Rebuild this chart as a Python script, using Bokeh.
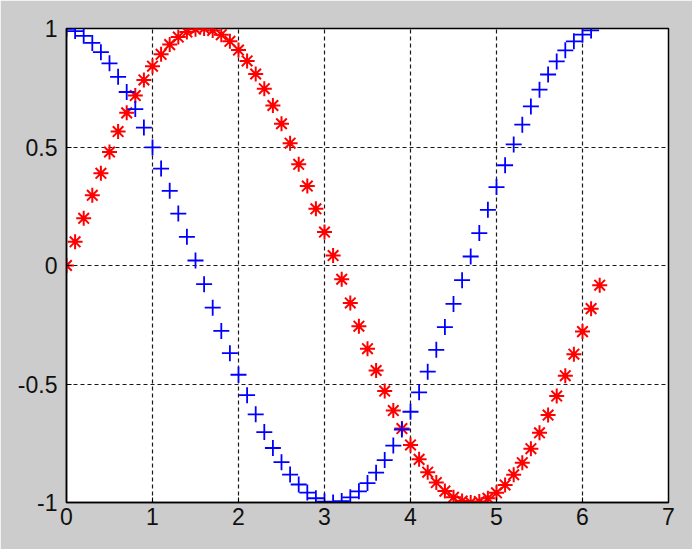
from bokeh.plotting import figure
from bokeh.models import FixedTicker, Range1d
from bokeh.embed import file_html
from bokeh.resources import INLINE

# red '*' series
red_x = [0.0, 0.1, 0.2, 0.3, 0.4, 0.5, 0.6, 0.7, 0.8, 0.9,
         1.0, 1.1, 1.2, 1.3, 1.4, 1.5, 1.6, 1.7, 1.8, 1.9,
         2.0, 2.1, 2.2, 2.3, 2.4, 2.5, 2.6, 2.7, 2.8, 2.9,
         3.0, 3.1, 3.2, 3.3, 3.4, 3.5, 3.6, 3.7, 3.8, 3.9,
         4.0, 4.1, 4.2, 4.3, 4.4, 4.5, 4.6, 4.7, 4.8, 4.9,
         5.0, 5.1, 5.2, 5.3, 5.4, 5.5, 5.6, 5.7, 5.8, 5.9,
         6.0, 6.1, 6.2]
red_y = [0.000, 0.100, 0.199, 0.296, 0.389, 0.479, 0.565, 0.644, 0.717, 0.783,
         0.841, 0.891, 0.932, 0.964, 0.985, 0.997, 1.000, 0.992, 0.974, 0.946,
         0.909, 0.863, 0.808, 0.746, 0.675, 0.598, 0.516, 0.427, 0.335, 0.239,
         0.141, 0.042, -0.058, -0.158, -0.256, -0.351, -0.443, -0.530, -0.612, -0.688,
         -0.757, -0.818, -0.872, -0.916, -0.952, -0.978, -0.994, -1.000, -0.996, -0.982,
         -0.959, -0.926, -0.883, -0.832, -0.773, -0.706, -0.631, -0.551, -0.465, -0.374,
         -0.279, -0.182, -0.083]

# blue '+' series
blue_x = [0.0, 0.1, 0.2, 0.3, 0.4, 0.5, 0.6, 0.7, 0.8, 0.9,
          1.0, 1.1, 1.2, 1.3, 1.4, 1.5, 1.6, 1.7, 1.8, 1.9,
          2.0, 2.1, 2.2, 2.3, 2.4, 2.5, 2.6, 2.7, 2.8, 2.9,
          3.0, 3.1, 3.2, 3.3, 3.4, 3.5, 3.6, 3.7, 3.8, 3.9,
          4.0, 4.1, 4.2, 4.3, 4.4, 4.5, 4.6, 4.7, 4.8, 4.9,
          5.0, 5.1, 5.2, 5.3, 5.4, 5.5, 5.6, 5.7, 5.8, 5.9,
          6.0, 6.1]
blue_y = [0.999, 0.989, 0.969, 0.939, 0.900, 0.853, 0.796, 0.732, 0.660, 0.582,
          0.498, 0.409, 0.315, 0.219, 0.121, 0.021, -0.079, -0.178, -0.276, -0.370,
          -0.461, -0.547, -0.628, -0.703, -0.770, -0.830, -0.882, -0.924, -0.958, -0.982,
          -0.996, -1.000, -0.994, -0.978, -0.953, -0.918, -0.874, -0.821, -0.760, -0.692,
          -0.617, -0.535, -0.448, -0.356, -0.260, -0.162, -0.062, 0.038, 0.137, 0.235,
          0.331, 0.423, 0.511, 0.594, 0.671, 0.742, 0.806, 0.861, 0.908, 0.946,
          0.974, 0.992]

x_ticks = [0, 1, 2, 3, 4, 5, 6, 7]
y_ticks = [-1, -0.5, 0, 0.5, 1]
y_tick_labels = {-1: "-1", -0.5: "-0.5", 0: "0", 0.5: "0.5", 1: "1"}

p = figure(width=692, height=549, output_backend="svg", toolbar_location=None,
           x_range=Range1d(0, 7), y_range=Range1d(-1, 1),
           min_border_left=66, min_border_right=24, min_border_top=28, min_border_bottom=47)

p.background_fill_color = "white"
p.border_fill_color = "#cccccc"
p.outline_line_color = "black"
p.outline_line_width = 1.5

for ax in (p.xaxis[0], p.yaxis[0]):
    ax.axis_line_color = "black"
    ax.axis_line_width = 1.5
    ax.major_tick_in = 5
    ax.major_tick_out = 0
    ax.minor_tick_in = 0
    ax.minor_tick_out = 0
    ax.major_tick_line_color = "black"
    ax.major_label_text_font = "Liberation Sans"
    ax.major_label_text_font_size = "23px"
    ax.major_label_text_color = "#111111"

p.xaxis.ticker = FixedTicker(ticks=x_ticks)
p.yaxis.ticker = FixedTicker(ticks=y_ticks)
p.xaxis.major_label_overrides = {t: str(t) for t in x_ticks}
p.yaxis.major_label_overrides = y_tick_labels
p.xaxis.major_label_standoff = 5
p.yaxis.major_label_standoff = 9

for g in (p.xgrid[0], p.ygrid[0]):
    g.grid_line_color = "black"
    g.grid_line_dash = "4 3"
    g.grid_line_width = 1.2
    g.grid_line_alpha = 0.9

p.scatter(red_x, red_y, marker="asterisk", size=15, line_color="#ff0000", line_width=2)
p.scatter(red_x, red_y, marker="circle", size=4, line_color="#ff0000", fill_color="#ff0000")
p.scatter(blue_x, blue_y, marker="cross", size=16, line_color="#0000ff", line_width=1.8)

open("out.html", "w").write(file_html(p, INLINE))
